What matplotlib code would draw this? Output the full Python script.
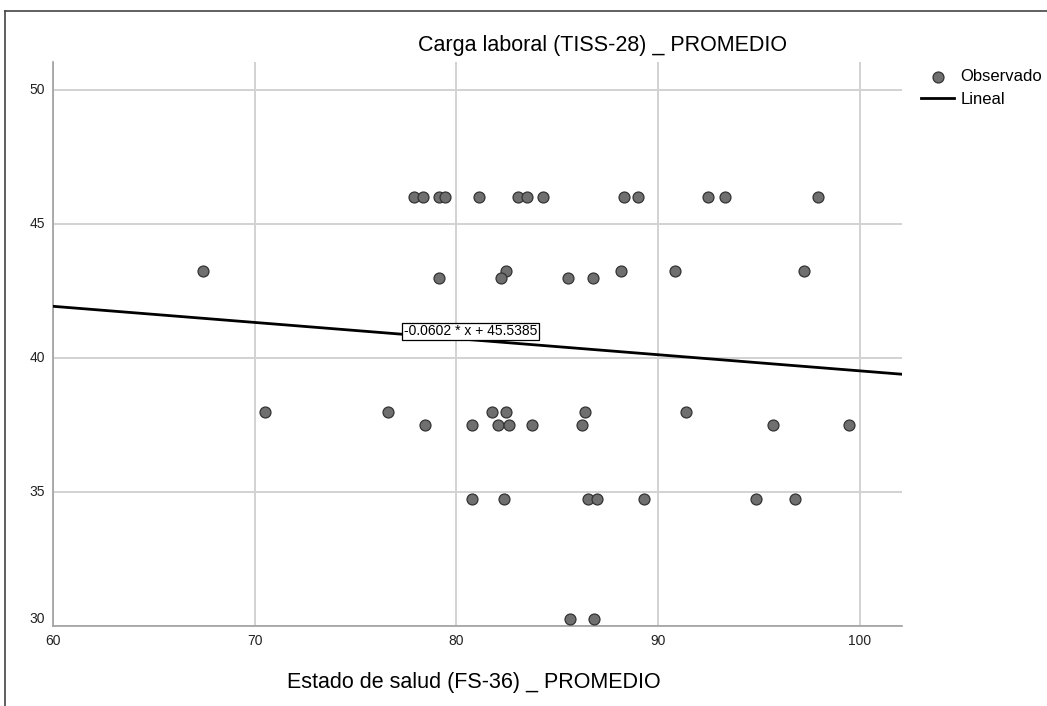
import numpy as np
import matplotlib
matplotlib.use("Agg")
import matplotlib.pyplot as plt
from matplotlib.lines import Line2D

plt.rcParams['font.family'] = ['Liberation Sans', 'DejaVu Sans']

# Observed points (Estado de salud, Carga laboral)
x_46 = [77.88, 78.33, 79.14, 79.42, 81.11, 83.06, 83.49, 84.30, 88.32, 89.02, 92.49, 93.33, 97.93]
x_4325 = [67.46, 82.48, 88.19, 90.83, 97.24]
x_43 = [79.14, 82.20, 85.52, 86.78]
x_38 = [70.52, 76.63, 81.77, 82.48, 86.40, 91.40]
x_375 = [78.45, 80.79, 82.05, 82.63, 83.74, 86.24, 95.70, 99.47]
x_3475 = [80.79, 82.35, 86.52, 86.96, 89.30, 94.85, 96.81]
x_3025 = [85.66, 86.85]

rows = [(x_46, 46.0), (x_4325, 43.25), (x_43, 43.0), (x_38, 38.0),
        (x_375, 37.5), (x_3475, 34.75), (x_3025, 30.25)]
salud = np.concatenate([r[0] for r in rows])
carga = np.concatenate([[r[1]] * len(r[0]) for r in rows])

slope = -0.0602
intercept = 45.5385

x_ticks = [60, 70, 80, 90, 100]
y_ticks = [30, 35, 40, 45, 50]

fig = plt.figure(figsize=(10.47, 7.06), dpi=100)
ax = fig.add_axes([0.0506, 0.1133, 0.8109, 0.7989])

ax.set_xlim(60, 102.1)
ax.set_ylim(30, 51.04)
ax.set_xticks(x_ticks)
ax.set_yticks(y_ticks)
ax.grid(True, color='#d2d2d2', linewidth=1.4)
ax.set_axisbelow(True)
for s in ['top', 'right']:
    ax.spines[s].set_visible(False)
for s in ['left', 'bottom']:
    ax.spines[s].set_color('#a0a0a0')
    ax.spines[s].set_linewidth(1.2)
ax.tick_params(length=0, labelsize=10, colors='#222222', pad=6)
for lbl in ax.get_yticklabels():
    lbl.set_verticalalignment('bottom' if lbl.get_text() == '30' else 'center')

ax.scatter(salud, carga, s=62, facecolor='#6f6f6f', edgecolor='#333333',
           linewidth=0.9, zorder=3, label='Observado')

xl = np.array(ax.get_xlim())
ax.plot(xl, slope * xl + intercept, color='black', linewidth=2.0, zorder=4,
        label='Lineal')

ax.text(77.4, 41.0, '-0.0602 * x + 45.5385', fontsize=10, ha='left', va='center',
        zorder=5, bbox=dict(boxstyle='square,pad=0.1', facecolor='white',
                            edgecolor='black', linewidth=0.9))

fig.text(0.575, 0.935, 'Carga laboral (TISS-28) _ PROMEDIO', fontsize=15.5,
         ha='center', va='center')
fig.text(0.4527, 0.033, 'Estado de salud (FS-36) _ PROMEDIO', fontsize=15.5,
         ha='center', va='center')

fig.legend(loc='upper left', bbox_to_anchor=(0.8797, 0.902), frameon=False,
           fontsize=12, handlelength=2.0, handletextpad=0.36, labelspacing=0.48,
           borderpad=0, borderaxespad=0)

# outer frame
fig.add_artist(Line2D([5 / 1047, 5 / 1047], [0, 1 - 11 / 706], color='#444444',
                      linewidth=1.2, transform=fig.transFigure))
fig.add_artist(Line2D([5 / 1047, 1], [1 - 11 / 706, 1 - 11 / 706], color='#444444',
                      linewidth=1.2, transform=fig.transFigure))

fig.savefig('out.png', dpi=100)
